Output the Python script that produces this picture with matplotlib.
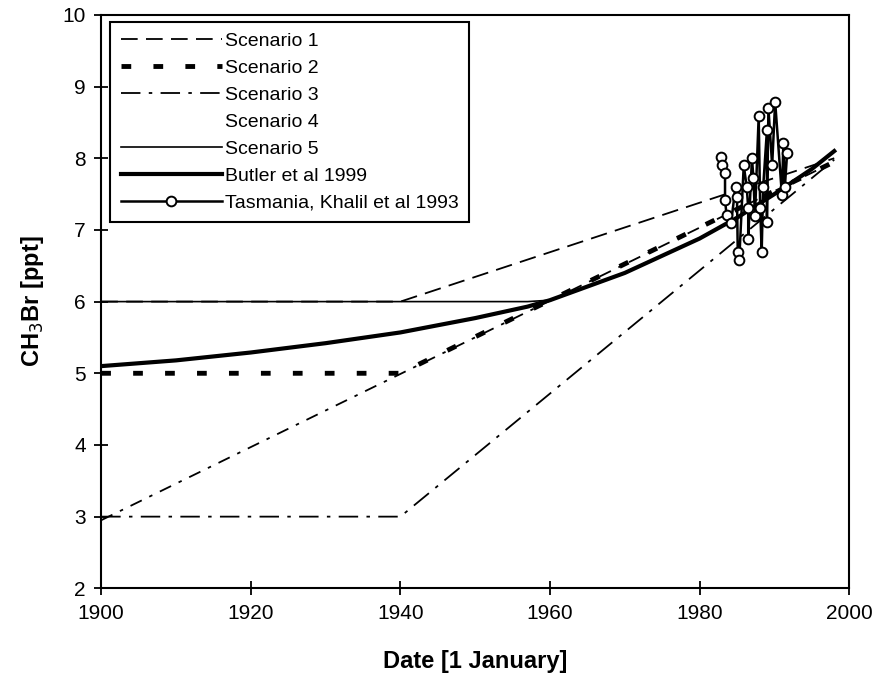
import matplotlib
matplotlib.use("Agg")
import matplotlib.pyplot as plt
from matplotlib.lines import Line2D

plt.rcParams["font.family"] = ["Liberation Sans", "DejaVu Sans"]
plt.rcParams["lines.scale_dashes"] = False

# scenario curves (year, ppt)
s1_years = [1900, 1940, 1998]
s1_vals = [6.0, 6.0, 8.0]
s2_years = [1900, 1940, 1998]
s2_vals = [5.0, 5.0, 7.95]
s3_years = [1900, 1940, 1998]
s3_vals = [3.0, 3.0, 7.98]
s4_years = [1900, 1998]
s4_vals = [2.95, 7.95]

butler_years = [1900, 1910, 1920, 1930, 1940, 1950, 1957, 1960, 1970, 1980, 1985, 1990, 1995, 1998]
butler_vals = [5.1, 5.18, 5.29, 5.42, 5.57, 5.77, 5.93, 6.02, 6.40, 6.88, 7.17, 7.50, 7.85, 8.10]

s5_years = [1900, 1957, 1960, 1970, 1980, 1985, 1990, 1995, 1998]
s5_vals = [6.0, 6.0, 6.02, 6.40, 6.88, 7.17, 7.50, 7.85, 8.10]

# Tasmania, Khalil et al 1993
tas_years = [1982.8, 1983.0, 1983.4, 1983.4, 1983.6, 1984.2, 1984.8, 1985.0, 1985.1, 1985.3,
             1985.9, 1986.3, 1986.5, 1986.5, 1987.0, 1987.2, 1987.4, 1987.9, 1988.1, 1988.3,
             1988.5, 1989.0, 1989.0, 1989.2, 1989.7, 1990.1, 1991.0, 1991.2, 1991.4, 1991.7]
tas_vals = [8.02, 7.90, 7.79, 7.42, 7.21, 7.09, 7.60, 7.46, 6.69, 6.58,
            7.90, 7.60, 7.30, 6.88, 8.00, 7.72, 7.19, 8.59, 7.30, 6.69,
            7.60, 8.39, 7.11, 8.70, 7.90, 8.79, 7.49, 8.21, 7.60, 8.07]

labels = ["Scenario 1", "Scenario 2", "Scenario 3", "Scenario 4", "Scenario 5",
          "Butler et al 1999", "Tasmania, Khalil et al 1993"]

fig = plt.figure(figsize=(8.8, 6.77), dpi=100)
ax = fig.add_axes([0.115, 0.131, 0.85, 0.847])

s1_style = dict(color="black", lw=1.3, linestyle=(0, (12, 6)))
s2_style = dict(color="black", lw=3.5, linestyle=(0, (7, 16)))
s3_style = dict(color="black", lw=1.3, linestyle=(0, (14, 6, 2.5, 6)))
s4_style = dict(color="black", lw=1.3, linestyle=(0, (9, 6, 2.5, 6)))
s5_style = dict(color="black", lw=1.2, linestyle="-")
bt_style = dict(color="black", lw=3.0, linestyle="-")
tas_style = dict(color="black", lw=1.8, marker="o", ms=7, mfc="white", mec="black", mew=1.4)

ax.plot(s4_years, s4_vals, **s4_style)
ax.plot(s3_years, s3_vals, **s3_style)
ax.plot(s1_years, s1_vals, **s1_style)
ax.plot(s5_years, s5_vals, **s5_style)
ax.plot(butler_years, butler_vals, **bt_style)
ax.plot(s2_years, s2_vals, **s2_style)
ax.plot(tas_years, tas_vals, **tas_style)

handles = [
    Line2D([], [], **s1_style),
    Line2D([], [], **s2_style),
    Line2D([], [], **s3_style),
    Line2D([], [], linestyle="none"),
    Line2D([], [], **s5_style),
    Line2D([], [], **bt_style),
    Line2D([], [], **tas_style),
]
leg = ax.legend(handles, labels, loc="upper left", bbox_to_anchor=(0.012, 0.988),
                borderaxespad=0, fontsize=14, handlelength=5.2, handletextpad=0.15,
                labelspacing=0.48, borderpad=0.55, numpoints=1, fancybox=False,
                framealpha=1, edgecolor="black")
leg.get_frame().set_linewidth(1.5)

ax.set_xlim(1900, 2000)
ax.set_ylim(2, 10)
ax.set_xticks([1900, 1920, 1940, 1960, 1980, 2000])
ax.set_yticks(range(2, 11))
ax.tick_params(direction="inout", length=10, width=1.3, labelsize=15, pad=6)
for sp in ax.spines.values():
    sp.set_linewidth(1.5)

ax.set_xlabel("Date [1 January]", fontsize=17, fontweight="bold", labelpad=20)
ax.set_ylabel("CH$_3$Br [ppt]", fontsize=17, fontweight="bold", labelpad=12)

fig.savefig("out.png", dpi=100)
